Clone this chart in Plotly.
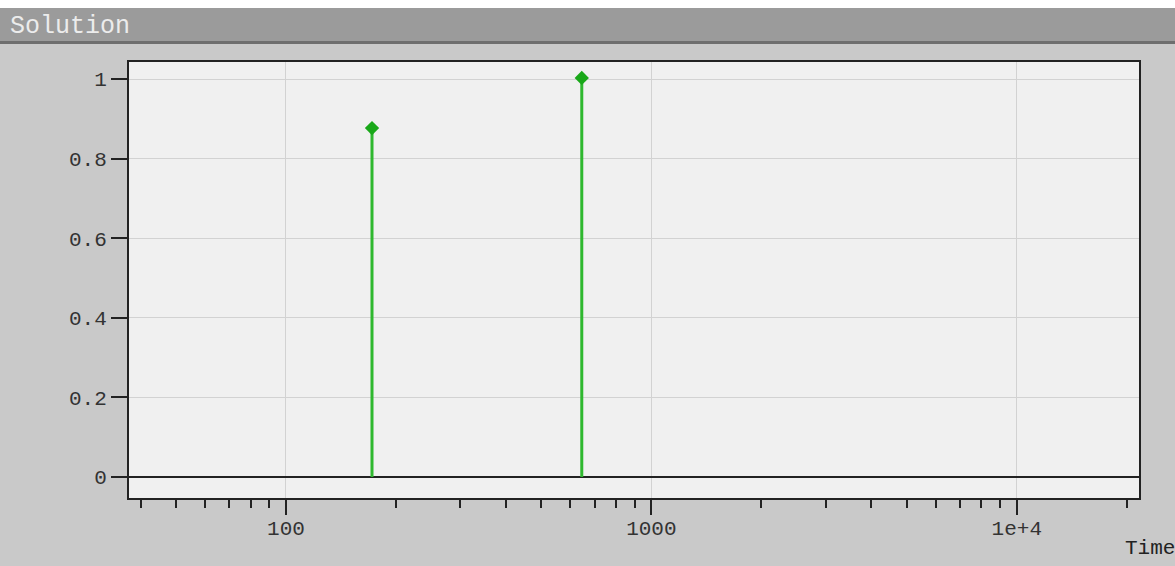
import plotly.graph_objects as go
import math

# Data
times = [172, 645]
values = [0.877, 1.003]

y_ticks = [0, 0.2, 0.4, 0.6, 0.8, 1]
y_ticktext = ["0", "0.2", "0.4", "0.6", "0.8", "1"]
x_ticks = [100, 1000, 10000]
x_ticktext = ["100", "1000", "1e+4"]
x_minor = [40, 50, 60, 70, 80, 90, 200, 300, 400, 500, 600, 700, 800, 900,
           2000, 3000, 4000, 5000, 6000, 7000, 8000, 9000, 20000]

FONT = "Liberation Mono"
W, H = 1175, 566
L, R, T, B = 129, 1139, 62, 498

def px(x):
    return (x - L) / (R - L)

def py(y):
    return (B - y) / (B - T)

stem_x, stem_y = [], []
for t, v in zip(times, values):
    stem_x += [t, t, None]
    stem_y += [0, v, None]

fig = go.Figure()
fig.add_trace(go.Scatter(x=stem_x, y=stem_y, mode="lines",
                         line=dict(color="#2fb82f", width=3),
                         hoverinfo="skip", showlegend=False))
fig.add_trace(go.Scatter(x=times, y=values, mode="markers",
                         marker=dict(symbol="diamond", size=11, color="#19a819"),
                         showlegend=False))

fig.update_layout(
    width=W, height=H,
    margin=dict(l=L, r=W - R, t=T, b=H - B),
    paper_bgcolor="#ffffff",
    plot_bgcolor="#f0f0f0",
    showlegend=False,
    xaxis=dict(
        type="log",
        range=[math.log10(37.2), math.log10(21600)],
        tickmode="array", tickvals=x_ticks, ticktext=x_ticktext,
        ticks="outside", ticklen=15, tickwidth=2, tickcolor="#222",
        showgrid=True, gridcolor="#d2d2d2", gridwidth=1,
        showline=True, linecolor="#222", linewidth=2, mirror=True,
        zeroline=False,
        ticklabelstandoff=-5,
        tickfont=dict(family=FONT, size=21, color="#333"),
        minor=dict(tickmode="array", tickvals=x_minor, ticks="outside",
                   ticklen=8, tickwidth=2, tickcolor="#222", showgrid=False),
    ),
    yaxis=dict(
        range=[-0.053, 1.043],
        tickmode="array", tickvals=y_ticks, ticktext=y_ticktext,
        ticks="outside", ticklen=16, tickwidth=2, tickcolor="#222",
        showgrid=True, gridcolor="#d2d2d2", gridwidth=1,
        showline=True, linecolor="#222", linewidth=2, mirror=True,
        zeroline=True, zerolinecolor="#222", zerolinewidth=2,
        tickfont=dict(family=FONT, size=21, color="#333"),
    ),
    shapes=[
        dict(type="rect", xref="paper", yref="paper",
             x0=px(-5), x1=px(W + 5), y0=py(H + 5), y1=py(44),
             fillcolor="#c9c9c9", line=dict(width=0), layer="below"),
        dict(type="rect", xref="paper", yref="paper",
             x0=0, x1=1, y0=0, y1=1,
             fillcolor="#f0f0f0", line=dict(width=0), layer="below"),
        dict(type="rect", xref="paper", yref="paper",
             x0=px(-5), x1=px(W + 5), y0=py(8), y1=py(41),
             fillcolor="#9b9b9b", line=dict(width=0), layer="below"),
        dict(type="rect", xref="paper", yref="paper",
             x0=px(-5), x1=px(W + 5), y0=py(41), y1=py(44),
             fillcolor="#6e6e6e", line=dict(width=0), layer="below"),
    ],
    annotations=[
        dict(text="Solution", xref="paper", yref="paper",
             x=px(8), y=py(26), xanchor="left", yanchor="middle",
             showarrow=False,
             font=dict(family=FONT, size=25, color="#ececec")),
        dict(text="Time", xref="paper", yref="paper",
             x=px(1123), y=py(548), xanchor="left", yanchor="middle",
             showarrow=False,
             font=dict(family=FONT, size=21, color="#222")),
    ],
)

fig.write_html("out.html")
